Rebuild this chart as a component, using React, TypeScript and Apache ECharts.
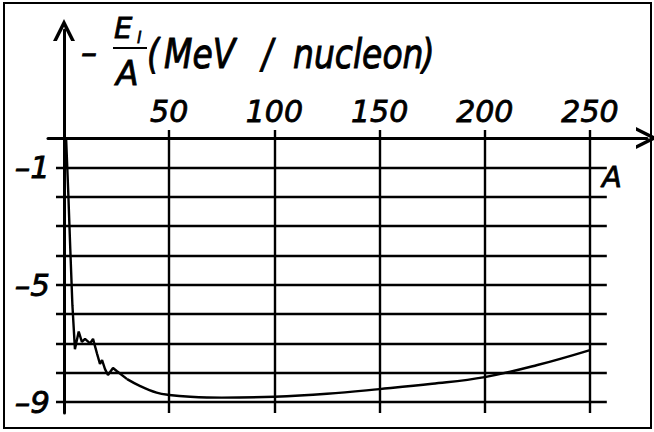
import React, { useEffect, useRef } from "react";
import * as echarts from "echarts";

// ---- data ----
const zigA = [1, 2, 3, 4, 5.2, 7, 8.5, 10, 12.4, 13.8, 15.7, 17.1, 18.1, 19.5, 20.9, 23.3, 25.2, 30];
const zigV = [0, -1.8, -3.8, -5.7, -7.2, -6.6, -6.95, -6.85, -7.0, -6.85, -7.35, -7.7, -7.57, -7.88, -8.08, -7.84, -7.95, -8.22];
const tailA = [30, 36, 44, 50, 60, 75, 100, 125, 150, 175, 200, 225, 250];
const tailV = [-8.22, -8.45, -8.68, -8.76, -8.82, -8.85, -8.82, -8.72, -8.56, -8.38, -8.15, -7.74, -7.23];
const xTickValues = [50, 100, 150, 200, 250];
const yGridValues = [-1, -2, -3, -4, -5, -6, -7, -8, -9];
const yLabelValues = [-1, -5, -9];

// axis extents
const X_MIN = -7.6;
const X_MAX = 277.1;
const Y_MIN = -9.375;
const Y_MAX = 3.68;
const H_LINE_FROM = -3.8;
const H_LINE_TO = 258;
const V_LINE_TOP = 0.27;

const FONT = "DejaVu Sans";
const chevron = "path://M0,20 L10,0 L20,20 L16.5,20 L10,7 L3.5,20 Z";

export default function App() {
  const ref = useRef<HTMLDivElement>(null);
  useEffect(() => {
    if (!ref.current) return;
    const chart = echarts.init(ref.current, null, { renderer: "svg" });
    const lineStyle = { color: "#000", width: 2.4, type: "solid" as const };
    const gridLines: any[] = [];
    yGridValues.forEach((v) => {
      gridLines.push([{ coord: [H_LINE_FROM, v] }, { coord: [H_LINE_TO, v] }]);
    });
    xTickValues.forEach((a) => {
      gridLines.push([{ coord: [a, V_LINE_TOP] }, { coord: [a, Y_MIN] }]);
    });
    const txt = (text: string, x: number, y: number, size: number, extra: any = {}) => ({
      type: "text",
      x,
      y,
      ...extra,
      style: {
        text,
        fill: "#000",
        stroke: "#000",
        lineWidth: 0.8,
        font: `italic ${size}px '${FONT}'`,
        align: "left",
        verticalAlign: "middle",
      },
    });
    const labelFont = {
      color: "#000",
      fontFamily: FONT,
      fontStyle: "italic",
      textBorderColor: "#000",
      textBorderWidth: 0.8,
    };
    chart.setOption({
      animation: false,
      backgroundColor: "#fff",
      grid: { left: 48, right: 7, top: 30, bottom: 19 },
      xAxis: {
        type: "value",
        position: "top",
        offset: -108,
        min: X_MIN,
        max: X_MAX,
        axisLine: {
          onZero: false,
          lineStyle: { color: "#000", width: 3 },
          symbol: ["none", chevron],
          symbolSize: [22, 22],
        },
        axisTick: { show: false },
        splitLine: { show: false },
        axisLabel: {
          customValues: xTickValues,
          margin: 12,
          fontSize: 30,
          ...labelFont,
        },
      },
      yAxis: {
        type: "value",
        position: "left",
        offset: -16,
        min: Y_MIN,
        max: Y_MAX,
        axisLine: {
          onZero: false,
          lineStyle: { color: "#000", width: 3 },
          symbol: ["none", chevron],
          symbolSize: [22, 22],
        },
        axisTick: { show: false },
        splitLine: { show: false },
        axisLabel: {
          customValues: yLabelValues,
          margin: 14,
          fontSize: 31,
          ...labelFont,
          formatter: (v: number) => "\u2013" + Math.abs(v),
        },
      },
      series: [
        {
          type: "line",
          data: zigA.map((a, i) => [a, zigV[i]]),
          showSymbol: false,
          smooth: false,
          lineStyle: { color: "#000", width: 2.4 },
          markLine: {
            silent: true,
            symbol: ["none", "none"],
            label: { show: false },
            lineStyle,
            data: gridLines,
          },
        },
        {
          type: "line",
          data: tailA.map((a, i) => [a, tailV[i]]),
          showSymbol: false,
          smooth: 0.4,
          lineStyle: { color: "#000", width: 2.4 },
        },
      ],
      graphic: [
        {
          type: "rect",
          shape: { x: 4, y: 3, width: 647, height: 425 },
          style: { fill: "none", stroke: "#000", lineWidth: 2 },
        },
        txt("\u2013", 81, 53, 32),
        txt("E", 114, 28, 29),
        txt("l", 137, 38, 15),
        {
          type: "line",
          shape: { x1: 113, y1: 48, x2: 147, y2: 48 },
          style: { stroke: "#000", lineWidth: 1.8 },
        },
        txt("A", 116, 73, 33),
        txt("(", 147, 54, 32, { scaleY: 1.25 }),
        txt("MeV", 164, 54, 33, { scaleY: 1.25 }),
        txt("/", 262, 54, 32, { scaleY: 1.25 }),
        txt("nucleon", 293, 54, 33, { scaleY: 1.25 }),
        txt(")", 422, 54, 32, { scaleY: 1.25 }),
        txt("A", 602, 177, 29),
      ],
    });
    return () => chart.dispose();
  }, []);
  return (
    <div
      ref={ref}
      style={{ position: "fixed", left: 0, top: 0, width: 654, height: 432, background: "#fff" }}
    />
  );
}
